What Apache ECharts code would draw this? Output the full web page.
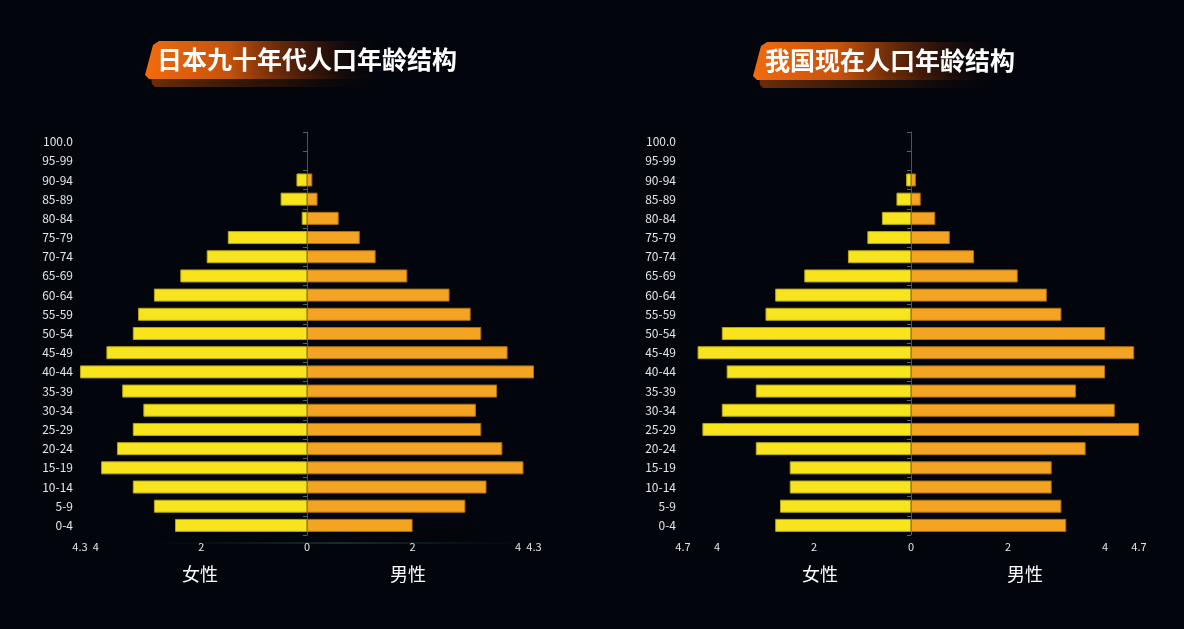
<!DOCTYPE html>
<html>
<head>
<meta charset="utf-8">
<script src="https://cdn.jsdelivr.net/npm/echarts@6/dist/echarts.min.js"></script>
<style>
html,body{margin:0;padding:0;background:#03050c;}
#main{width:1184px;height:629px;}
</style>
</head>
<body>
<div id="main"></div>
<script>
var ageGroups = ['0-4','5-9','10-14','15-19','20-24','25-29','30-34','35-39','40-44','45-49','50-54','55-59','60-64','65-69','70-74','75-79','80-84','85-89','90-94','95-99','100.0'];
var japanFemale = [2.5,2.9,3.3,3.9,3.6,3.3,3.1,3.5,4.3,3.8,3.3,3.2,2.9,2.4,1.9,1.5,0.1,0.5,0.2,0,0];
var japanMale   = [2.0,3.0,3.4,4.1,3.7,3.3,3.2,3.6,4.3,3.8,3.3,3.1,2.7,1.9,1.3,1.0,0.6,0.2,0.1,0,0];
var chinaFemale = [2.8,2.7,2.5,2.5,3.2,4.3,3.9,3.2,3.8,4.4,3.9,3.0,2.8,2.2,1.3,0.9,0.6,0.3,0.1,0,0];
var chinaMale   = [3.2,3.1,2.9,2.9,3.6,4.7,4.2,3.4,4.0,4.6,4.0,3.1,2.8,2.2,1.3,0.8,0.5,0.2,0.1,0,0];
var titles = ['日本九十年代人口年龄结构','我国现在人口年龄结构'];
var genderNames = ['女性','男性'];

var FONT = '"Noto Sans CJK SC","Noto Sans",sans-serif';
var chart = echarts.init(document.getElementById('main'));

// zero values are not drawn (no empty bar outline)
function prep(arr, sign){ return arr.map(function(v){ return v === 0 ? '-' : sign * v; }); }
function maxAbs(a,b){ return Math.max.apply(null, a.concat(b)); }

var jMax = maxAbs(japanFemale, japanMale);
var cMax = maxAbs(chinaFemale, chinaMale);

function xAxisDef(gi, m){
  return {
    type:'value', gridIndex: gi, min: -m, max: m, interval: 2,
    splitLine:{show:false},
    axisLine:{show:false}, axisTick:{show:false},
    axisLabel:{
      color:'#e6e6e6', fontSize:11, fontFamily:FONT, margin:6,
      customValues:[-m,-4,-2,0,2,4,m],
      formatter:function(v){ return String(Math.round(Math.abs(v)*10)/10); }
    }
  };
}
function yLabelAxis(gi){
  return {
    type:'category', gridIndex: gi, data: ageGroups, position:'left',
    axisLine:{show:false, onZero:false}, axisTick:{show:false},
    axisLabel:{color:'#e6e6e6', fontSize:12, fontFamily:FONT, margin:7}
  };
}
function yCenterAxis(gi){
  return {
    type:'category', gridIndex: gi, data: ageGroups, position:'left',
    axisLine:{show:true, onZero:true, lineStyle:{color:'#4b5262', width:1}},
    axisTick:{show:true, length:4, lineStyle:{color:'#5a6070'}},
    axisLabel:{show:false}
  };
}
function barSeries(name, data, xi, yi, color, border, stack){
  return {
    name:name, type:'bar', xAxisIndex:xi, yAxisIndex:yi, stack:stack,
    data:data, barWidth:13,
    itemStyle:{color:color, borderColor:border, borderWidth:1}
  };
}
function titleBadge(x, y, w, text){
  return [
    {
      type:'polygon', z:1,
      shape:{points:[[x+6,y+34],[x+w,y+34],[x+w,y+46],[x+10,y+46],[x+7,y+43]]},
      style:{fill:new echarts.graphic.LinearGradient(0,0,1,0,[
        {offset:0,color:'rgba(120,50,8,0.9)'},{offset:0.6,color:'rgba(60,25,5,0.5)'},{offset:1,color:'rgba(3,5,12,0)'}])}
    },
    {
      type:'polygon', z:2,
      shape:{points:[[x+14,y],[x+w,y],[x+w,y+38],[x+4,y+38],[x,y+34],[x+8,y+4]]},
      style:{fill:new echarts.graphic.LinearGradient(0,0,1,0,[
        {offset:0,color:'#f26b0e'},{offset:0.35,color:'#c4520c'},{offset:0.7,color:'rgba(80,30,8,0.7)'},{offset:1,color:'rgba(3,5,12,0)'}])}
    },
    {
      type:'text', z:3, left:x+12, top:y+6,
      style:{text:text, fill:'#ffffff', font:'bold 25px '+FONT}
    }
  ];
}

var graphics = [];
graphics = graphics.concat(titleBadge(145, 41, 240, titles[0]));
graphics = graphics.concat(titleBadge(753, 42, 250, titles[1]));
graphics.push({
  type:'rect', z:0, shape:{x:150,y:542,width:380,height:2},
  style:{fill:new echarts.graphic.LinearGradient(0,0,1,0,[
    {offset:0,color:'rgba(20,60,50,0)'},{offset:0.5,color:'rgba(30,80,65,0.55)'},{offset:1,color:'rgba(20,60,50,0)'}])}
});
var gPos = [[200,408],[820,1025]];
gPos.forEach(function(p){
  graphics.push({type:'text', left:p[0]-18, top:565, style:{text:genderNames[0], fill:'#ffffff', font:'18px '+FONT}});
  graphics.push({type:'text', left:p[1]-18, top:565, style:{text:genderNames[1], fill:'#ffffff', font:'18px '+FONT}});
});

var YEL = '#f7e41c', YELB = '#b9a60f', ORG = '#f3a423', ORGB = '#b0700f';

chart.setOption({
  backgroundColor:'#03050c',
  animation:false,
  grid:[
    {left:80, width:454, top:132, height:403, containLabel:false},
    {left:683, width:456, top:132, height:403, containLabel:false}
  ],
  xAxis:[xAxisDef(0, jMax), xAxisDef(1, cMax)],
  yAxis:[yLabelAxis(0), yCenterAxis(0), yLabelAxis(1), yCenterAxis(1)],
  series:[
    barSeries(genderNames[0], prep(japanFemale,-1), 0, 0, YEL, YELB, 'j'),
    barSeries(genderNames[1], prep(japanMale,1), 0, 0, ORG, ORGB, 'j'),
    barSeries(genderNames[0], prep(chinaFemale,-1), 1, 2, YEL, YELB, 'c'),
    barSeries(genderNames[1], prep(chinaMale,1), 1, 2, ORG, ORGB, 'c')
  ],
  graphic: graphics
});
</script>
</body>
</html>
